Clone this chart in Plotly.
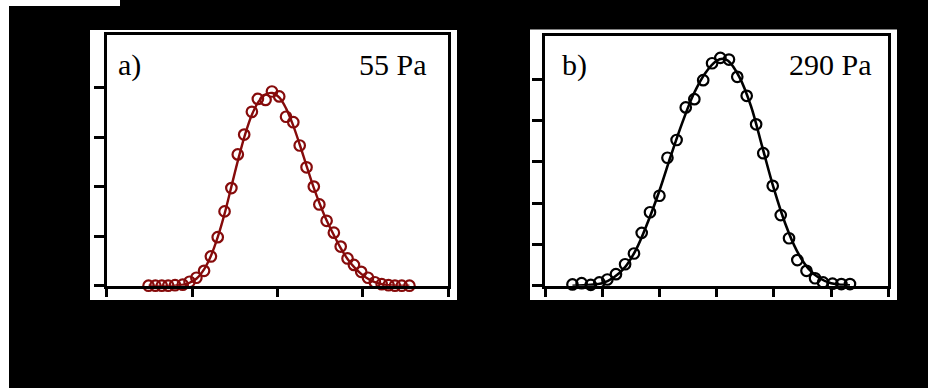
import plotly.graph_objects as go

W, H = 928, 388

# ---- panel a) 55 Pa : measured points and fitted curve ----
a_x = [0.49, 0.57, 0.645, 0.72, 0.80, 0.89, 0.97, 1.05, 1.14, 1.22, 1.30, 1.38, 1.46,
       1.535, 1.61, 1.70, 1.77, 1.86, 1.935, 2.02, 2.10, 2.185, 2.26, 2.34, 2.425, 2.49,
       2.575, 2.66, 2.74, 2.82, 2.895, 2.98, 3.06, 3.14, 3.22, 3.30, 3.375, 3.455, 3.545]
a_y = [0.0, 0.0, 0.0, 0.0, 0.01, 0.02, 0.08, 0.16, 0.30, 0.59, 0.98, 1.50, 1.97,
       2.65, 3.05, 3.51, 3.77, 3.75, 3.92, 3.82, 3.41, 3.30, 2.83, 2.39, 2.00, 1.64,
       1.31, 1.07, 0.79, 0.55, 0.42, 0.28, 0.16, 0.07, 0.03, 0.01, 0.0, 0.0, 0.0]
a_fit_x = [0.49, 0.80, 0.90, 0.97, 1.05, 1.14, 1.22, 1.30, 1.38, 1.46, 1.54, 1.62, 1.70,
           1.78, 1.86, 1.94, 2.02, 2.10, 2.18, 2.26, 2.34, 2.42, 2.50, 2.58, 2.66, 2.74,
           2.82, 2.90, 2.98, 3.06, 3.14, 3.22, 3.30, 3.40, 3.545]
a_fit_y = [0.0, 0.0, 0.02, 0.06, 0.14, 0.33, 0.60, 0.98, 1.45, 2.00, 2.55, 3.05, 3.45,
           3.72, 3.86, 3.89, 3.80, 3.58, 3.25, 2.85, 2.42, 2.00, 1.63, 1.30, 1.02, 0.76,
           0.54, 0.37, 0.24, 0.14, 0.07, 0.03, 0.01, 0.0, 0.0]

# ---- panel b) 290 Pa ----
b_x = [0.48, 0.64, 0.80, 0.95, 1.09, 1.24, 1.40, 1.555, 1.69, 1.835, 2.00, 2.14, 2.30,
       2.46, 2.61, 2.765, 2.92, 3.065, 3.215, 3.36, 3.525, 3.69, 3.815, 3.98, 4.12,
       4.265, 4.41, 4.57, 4.72, 4.86, 5.025, 5.18, 5.33]
b_y = [0.03, 0.06, 0.02, 0.08, 0.15, 0.28, 0.52, 0.78, 1.28, 1.78, 2.18, 3.10, 3.53,
       4.32, 4.52, 4.98, 5.39, 5.52, 5.48, 5.06, 4.60, 3.91, 3.21, 2.42, 1.71,
       1.15, 0.62, 0.36, 0.18, 0.08, 0.05, 0.04, 0.04]
b_fit_x = [0.48, 0.80, 1.00, 1.20, 1.40, 1.60, 1.80, 2.00, 2.20, 2.40, 2.60, 2.80, 3.00,
           3.10, 3.20, 3.40, 3.60, 3.80, 4.00, 4.20, 4.40, 4.60, 4.80, 5.00, 5.20, 5.33]
b_fit_y = [0.0, 0.02, 0.06, 0.20, 0.45, 0.90, 1.55, 2.30, 3.15, 3.95, 4.65, 5.15, 5.45,
           5.50, 5.45, 5.05, 4.35, 3.35, 2.35, 1.50, 0.85, 0.42, 0.18, 0.06, 0.02, 0.01]

a_xticks = [0, 1, 2, 3, 4]
a_yticks = [0, 1, 2, 3, 4]
b_xticks = [0, 1, 2, 3, 4, 5, 6]
b_yticks = [0, 1, 2, 3, 4, 5]

RED = "#860b0b"
BLACK = "#000000"


def px_x(p):
    return p / W


def px_y(p):
    return 1 - p / H


fig = go.Figure()

marker_size = 10.5
marker_line = 2.2

fig.add_trace(go.Scatter(x=a_fit_x, y=a_fit_y, mode="lines", line=dict(color=RED, width=2.4, shape="spline"),
                         xaxis="x", yaxis="y", showlegend=False, cliponaxis=False))
fig.add_trace(go.Scatter(x=a_x, y=a_y, mode="markers",
                         marker=dict(symbol="circle-open", size=marker_size, color=RED,
                                     line=dict(width=marker_line, color=RED)),
                         xaxis="x", yaxis="y", showlegend=False, cliponaxis=False))
fig.add_trace(go.Scatter(x=b_fit_x, y=b_fit_y, mode="lines", line=dict(color=BLACK, width=2.6, shape="spline"),
                         xaxis="x2", yaxis="y2", showlegend=False, cliponaxis=False))
fig.add_trace(go.Scatter(x=b_x, y=b_y, mode="markers",
                         marker=dict(symbol="circle-open", size=marker_size, color=BLACK,
                                     line=dict(width=marker_line, color=BLACK)),
                         xaxis="x2", yaxis="y2", showlegend=False, cliponaxis=False))

axis_common = dict(showline=True, linecolor="black", linewidth=2.5, mirror=True,
                   ticks="outside", tickcolor="black", tickwidth=2.5,
                   showgrid=False, zeroline=False, showticklabels=False, fixedrange=True)

fig.update_layout(
    width=W, height=H,
    margin=dict(l=0, r=0, t=0, b=0, pad=0),
    paper_bgcolor="black",
    plot_bgcolor="white",
    xaxis=dict(domain=[px_x(106.7), px_x(448.3)], range=[0, 4], tickvals=a_xticks, ticklen=9,
               anchor="y", **axis_common),
    yaxis=dict(domain=[px_y(285.7), px_y(35)], range=[0, 5.06], tickvals=a_yticks, ticklen=10,
               anchor="x", **axis_common),
    xaxis2=dict(domain=[px_x(545), px_x(888.3)], range=[0, 6], tickvals=b_xticks, ticklen=9,
                anchor="y2", **axis_common),
    yaxis2=dict(domain=[px_y(285.7), px_y(36)], range=[0, 6.05], tickvals=b_yticks, ticklen=10,
                anchor="x2", **axis_common),
    shapes=[
        # white frames behind the two panels
        dict(type="rect", xref="paper", yref="paper", x0=px_x(90), x1=px_x(457), y0=px_y(300), y1=px_y(30),
             fillcolor="white", line=dict(width=0), layer="below"),
        dict(type="rect", xref="paper", yref="paper", x0=px_x(530), x1=px_x(897), y0=px_y(300), y1=px_y(29.5),
             fillcolor="white", line=dict(width=0), layer="below"),
        # light page edge on the left
        dict(type="rect", xref="paper", yref="paper", x0=0, x1=px_x(9), y0=0, y1=1,
             fillcolor="white", line=dict(width=0), layer="below"),
        dict(type="rect", xref="paper", yref="paper", x0=0, x1=px_x(120), y0=px_y(6), y1=1,
             fillcolor="white", line=dict(width=0), layer="below"),
    ],
)

label_font = dict(family="Liberation Serif, Times New Roman, serif", size=30, color="black")
fig.add_annotation(text="a)", xref="paper", yref="paper", x=px_x(116), y=px_y(65), xanchor="left",
                   yanchor="middle", showarrow=False, font=label_font)
fig.add_annotation(text="55 Pa", xref="paper", yref="paper", x=px_x(429), y=px_y(65), xanchor="right",
                   yanchor="middle", showarrow=False, font=label_font)
fig.add_annotation(text="b)", xref="paper", yref="paper", x=px_x(560), y=px_y(65), xanchor="left",
                   yanchor="middle", showarrow=False, font=label_font)
fig.add_annotation(text="290 Pa", xref="paper", yref="paper", x=px_x(874), y=px_y(65), xanchor="right",
                   yanchor="middle", showarrow=False, font=label_font)

fig.write_html("out.html")
